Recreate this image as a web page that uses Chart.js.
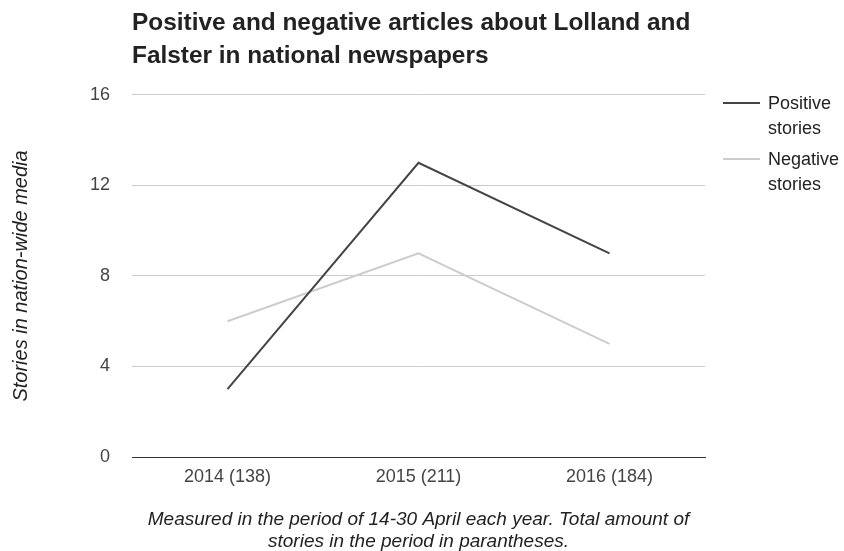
<!DOCTYPE html>
<html>
<head>
<meta charset="utf-8">
<script src="https://cdn.jsdelivr.net/npm/chart.js@4/dist/chart.umd.min.js"></script>
<style>
  html, body { margin: 0; padding: 0; background: #fff; }
  #wrap { width: 844px; height: 551px; }
</style>
</head>
<body>
<div id="wrap"><canvas id="myChart" width="844" height="551"></canvas></div>
<script>
const years = ['2014 (138)', '2015 (211)', '2016 (184)'];
const positive = [3, 13, 9];
const negative = [6, 9, 5];
const seriesNames = ['Positive stories', 'Negative stories'];
const seriesColors = ['#444444', '#cccccc'];

const font = 'Arial, "Liberation Sans", sans-serif';

// legend on the right, wrapped like the original
const sideLegend = {
    id: 'sideLegend',
    afterDraw(chart) {
        const ctx = chart.ctx;
        ctx.save();
        ctx.font = '18px ' + font;
        ctx.textBaseline = 'middle';
        ctx.fillStyle = '#222';
        let y = 103;
        chart.data.datasets.forEach(ds => {
            ctx.strokeStyle = ds.borderColor;
            ctx.lineWidth = 2;
            ctx.beginPath();
            ctx.moveTo(723, y);
            ctx.lineTo(760, y);
            ctx.stroke();
            ds.label.split(' ').forEach((w, i) => {
                ctx.fillText(w, 768, y + 1 + i * 25);
            });
            y += 56;
        });
        ctx.restore();
    }
};

const data = {
    labels: years,
    datasets: [{
        label: seriesNames[0],
        data: positive,
        borderColor: seriesColors[0],
        backgroundColor: seriesColors[0],
        borderWidth: 2,
        pointRadius: 0,
        tension: 0
    }, {
        label: seriesNames[1],
        data: negative,
        borderColor: seriesColors[1],
        backgroundColor: seriesColors[1],
        borderWidth: 2,
        pointRadius: 0,
        tension: 0
    }]
};

const config = {
    type: 'line',
    data: data,
    options: {
        responsive: false,
        animation: false,
        layout: { padding: { left: 8, right: 139, top: 0, bottom: 0 } },
        plugins: {
            legend: { display: false },
            tooltip: { enabled: false },
            title: {
                display: true,
                text: ['Positive and negative articles about Lolland and', 'Falster in national newspapers'],
                align: 'start',
                fullSize: false,
                color: '#222',
                font: { family: font, size: 24.4, weight: 'bold', lineHeight: 1.35 },
                padding: { top: 6.5, bottom: 22.5 }
            }
        },
        scales: {
            x: {
                offset: true,
                grid: { display: false, drawTicks: false },
                border: { display: true, color: '#333', width: 1 },
                ticks: { color: '#444', font: { family: font, size: 18 }, padding: 9 },
                title: {
                    display: true,
                    text: ['Measured in the period of 14-30 April each year. Total amount of', 'stories in the period in parantheses.'],
                    color: '#222',
                    font: { family: font, size: 19, style: 'italic', lineHeight: 1.16 },
                    padding: { top: 10, bottom: -2 }
                },
                afterFit(scale) { scale.height = 94; }
            },
            y: {
                min: 0,
                max: 16,
                ticks: { stepSize: 4, color: '#444', font: { family: font, size: 18 }, padding: 22 },
                grid: { color: '#cccccc', drawTicks: false },
                border: { display: false },
                title: {
                    display: true,
                    text: 'Stories in nation-wide media',
                    color: '#222',
                    font: { family: font, size: 20, style: 'italic' },
                    padding: { top: 1, bottom: 0 }
                },
                afterFit(scale) { scale.width = 124; }
            }
        }
    },
    plugins: [sideLegend]
};

const myChart = new Chart(document.getElementById('myChart'), config);
</script>
</body>
</html>
